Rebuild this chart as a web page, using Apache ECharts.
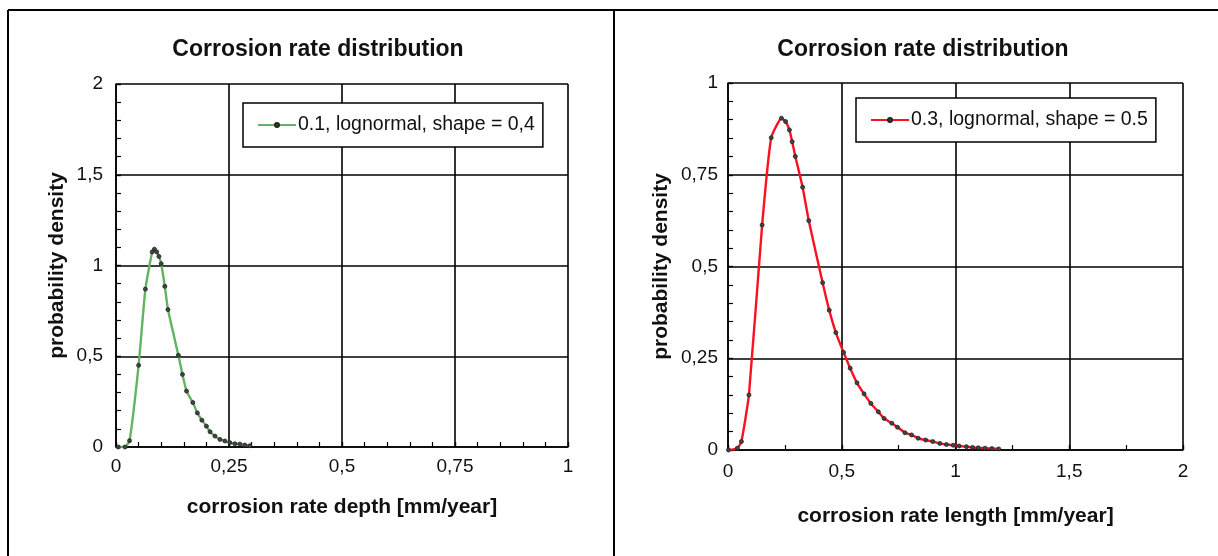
<!DOCTYPE html>
<html>
<head>
<meta charset="utf-8">
<script src="https://cdn.jsdelivr.net/npm/echarts@6/dist/echarts.min.js"></script>
<style>
  html, body { margin: 0; padding: 0; background: #fff; }
  #main { width: 1218px; height: 556px; }
</style>
</head>
<body>
<div id="main"></div>
<script>
// data: [rate, density]
var depthName = "0.1, lognormal, shape = 0,4";
var depthData = [
  [0.005, 0], [0.02, 0], [0.03, 0.035], [0.05, 0.45], [0.065, 0.87],
  [0.08, 1.075], [0.085, 1.09], [0.09, 1.075], [0.095, 1.05], [0.1, 1.01],
  [0.108, 0.885], [0.115, 0.757], [0.138, 0.505], [0.147, 0.40], [0.156, 0.308],
  [0.17, 0.245], [0.18, 0.188], [0.19, 0.148], [0.2, 0.115], [0.208, 0.084],
  [0.219, 0.06], [0.23, 0.042], [0.241, 0.033], [0.252, 0.024], [0.263, 0.018],
  [0.274, 0.016], [0.285, 0.011], [0.296, 0.007]
];

var lengthName = "0.3, lognormal, shape = 0.5";
var lengthData = [
  [0.002, 0], [0.041, 0.005], [0.059, 0.023], [0.092, 0.15], [0.15, 0.613],
  [0.19, 0.851], [0.235, 0.904], [0.253, 0.895], [0.27, 0.872], [0.282, 0.84],
  [0.296, 0.80], [0.328, 0.716], [0.355, 0.625], [0.416, 0.456], [0.445, 0.381],
  [0.474, 0.32], [0.508, 0.266], [0.537, 0.223], [0.567, 0.183], [0.598, 0.153],
  [0.628, 0.127], [0.661, 0.104], [0.686, 0.086], [0.72, 0.073], [0.745, 0.062],
  [0.778, 0.047], [0.807, 0.041], [0.836, 0.032], [0.869, 0.027], [0.9, 0.023],
  [0.931, 0.018], [0.96, 0.015], [0.99, 0.013], [1.016, 0.011], [1.048, 0.009],
  [1.075, 0.007], [1.1, 0.006], [1.13, 0.005], [1.16, 0.004], [1.19, 0.003]
];

// axis ranges
var depthX = { max: 1, step: 0.25, minor: 5 };
var depthY = { max: 2, step: 0.5, minor: 5 };
var lengthX = { max: 2, step: 0.5, minor: 2 };
var lengthY = { max: 1, step: 0.25, minor: 5 };

var font = "Liberation Sans, Arial, sans-serif";
var ink = "#111";

function comma(v) {
  return String(v).replace(".", ",");
}

// main axis: labels, grid lines, inside minor ticks
function mainAxis(grid, r, name, gap, margin) {
  return {
    type: "value",
    gridIndex: grid,
    min: 0,
    max: r.max,
    interval: r.step,
    name: name,
    nameLocation: "middle",
    nameGap: gap,
    nameTextStyle: { fontFamily: font, fontSize: 21, fontWeight: "bold", color: ink },
    axisLine: { show: true, onZero: false, lineStyle: { color: "#000", width: 1.5 } },
    axisTick: { show: true, inside: true, length: 5, lineStyle: { color: "#000", width: 1.2 } },
    minorTick: { show: true, splitNumber: r.minor, length: 5, lineStyle: { color: "#000", width: 1.2 } },
    splitLine: { show: true, lineStyle: { color: "#000", width: 1.6 } },
    axisLabel: { formatter: comma, fontFamily: font, fontSize: 19, color: ink, margin: margin }
  };
}

// extra axis only for the outside part of the major ticks
function tickAxis(grid, r) {
  return {
    type: "value",
    gridIndex: grid,
    min: 0,
    max: r.max,
    interval: r.step,
    axisLine: { show: false },
    axisTick: { show: true, inside: false, length: 5, lineStyle: { color: "#000", width: 1.2 } },
    axisLabel: { show: false },
    splitLine: { show: false }
  };
}

function legendBox(name, left, top) {
  return {
    data: [name],
    left: left,
    top: top,
    orient: "horizontal",
    backgroundColor: "#fff",
    borderColor: "#000",
    borderWidth: 1.5,
    borderRadius: 0,
    padding: [12, 8, 12, 14],
    itemWidth: 38,
    itemHeight: 5,
    textStyle: { fontFamily: font, fontSize: 19.5, color: ink, padding: [0, 0, 0, -3] }
  };
}

function curve(name, data, color, xi, yi) {
  return {
    name: name,
    type: "line",
    xAxisIndex: xi,
    yAxisIndex: yi,
    data: data,
    smooth: 0.15,
    symbol: "circle",
    symbolSize: 4,
    lineStyle: { color: color, width: 2.4 },
    itemStyle: { color: "#444", borderColor: "#222", borderWidth: 0.8 },
    emphasis: { disabled: true }
  };
}

var myChart = echarts.init(document.getElementById("main"), null, { renderer: "canvas" });

var option = {
  animation: false,
  backgroundColor: "#fff",
  title: [
    {
      text: "Corrosion rate distribution",
      left: 313, top: 33, textAlign: "center",
      textStyle: { fontFamily: font, fontSize: 23, fontWeight: "bold", color: ink }
    },
    {
      text: "Corrosion rate distribution",
      left: 918, top: 33, textAlign: "center",
      textStyle: { fontFamily: font, fontSize: 23, fontWeight: "bold", color: ink }
    }
  ],
  legend: [
    legendBox(depthName, 243, 103),
    legendBox(lengthName, 856, 98)
  ],
  grid: [
    { left: 116, top: 84, width: 452, height: 363 },
    { left: 728, top: 83, width: 455, height: 367 }
  ],
  xAxis: [
    mainAxis(0, depthX, "corrosion rate depth [mm/year]", 50, 10),
    mainAxis(1, lengthX, "corrosion rate length [mm/year]", 56, 12),
    tickAxis(0, depthX),
    tickAxis(1, lengthX)
  ],
  yAxis: [
    mainAxis(0, depthY, "probability density", 48, 13),
    mainAxis(1, lengthY, "probability density", 56, 10),
    tickAxis(0, depthY),
    tickAxis(1, lengthY)
  ],
  series: [
    curve(depthName, depthData, "#62b462", 0, 0),
    curve(lengthName, lengthData, "#ff1020", 1, 1)
  ],
  graphic: [
    { type: "line", shape: { x1: 8, y1: 10, x2: 1218, y2: 10 }, style: { stroke: "#000", lineWidth: 2 } },
    { type: "line", shape: { x1: 8, y1: 10, x2: 8, y2: 556 }, style: { stroke: "#000", lineWidth: 2 } },
    { type: "line", shape: { x1: 614, y1: 10, x2: 614, y2: 556 }, style: { stroke: "#000", lineWidth: 2 } }
  ]
};

myChart.setOption(option);
</script>
</body>
</html>
